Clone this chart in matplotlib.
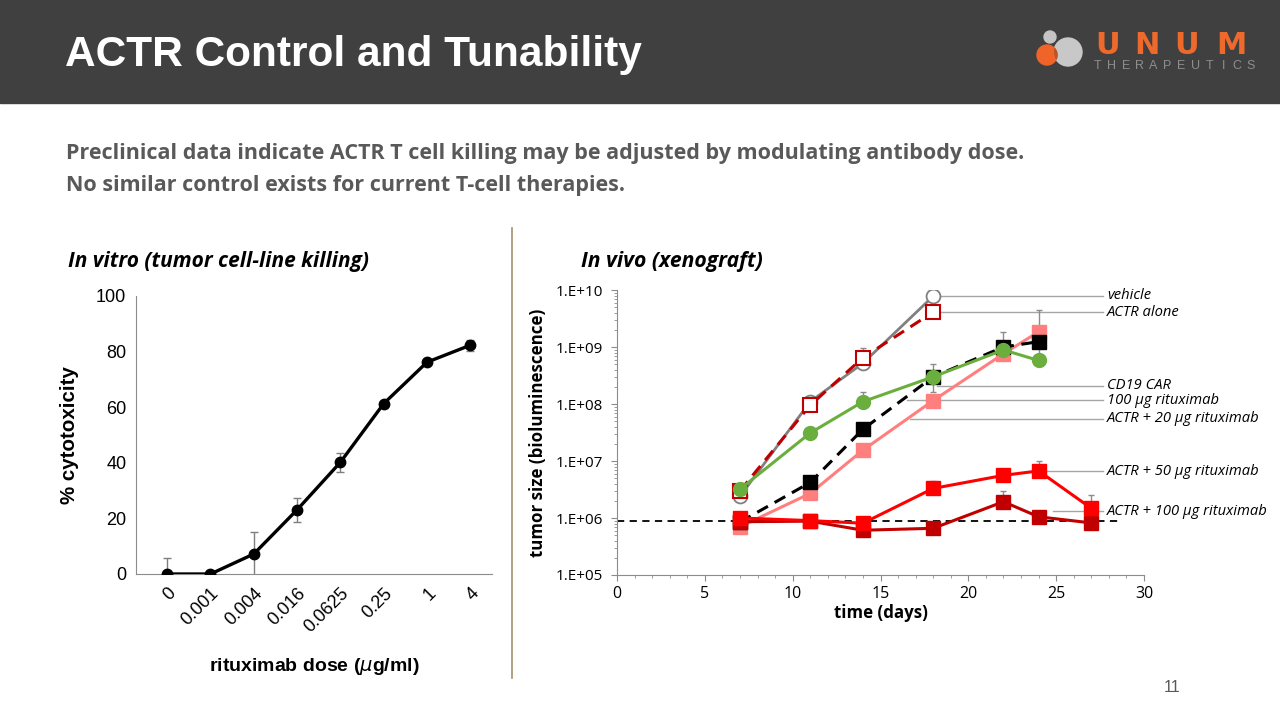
import numpy as np
import matplotlib
matplotlib.use("Agg")
import matplotlib.pyplot as plt
from matplotlib.patches import Rectangle, Circle
from matplotlib.ticker import LogLocator, NullFormatter, FixedLocator, MultipleLocator

# ---------------- data: in vitro ----------------
doses = ["0", "0.001", "0.004", "0.016", "0.0625", "0.25", "1", "4"]
cytotox = [0.0, 0.0, 7.2, 23.1, 40.2, 61.3, 76.2, 82.3]
cytotox_err = [5.8, 0.3, 7.8, 4.3, 3.5, 0.6, 0.6, 2.0]

# ---------------- data: in vivo ----------------
days_short = [7, 11, 14, 18]
days_mid = [7, 11, 14, 18, 22, 24]
days_all = [7, 11, 14, 18, 22, 24, 27]
vehicle = [2.4e6, 1.1e8, 5.2e8, 7.8e9]
actr_alone = [3.0e6, 9.5e7, 6.5e8, 4.1e9]
cd19_car = [8.5e5, 4.2e6, 3.6e7, 3.0e8, 1.0e9, 1.24e9]
ritux100 = [3.2e6, 3.1e7, 1.1e8, 3.0e8, 8.9e8, 5.8e8]
actr20 = [7.0e5, 2.7e6, 1.55e7, 1.15e8, 7.6e8, 1.85e9]
actr50 = [1.0e6, 9.0e5, 8.1e5, 3.3e6, 5.6e6, 6.7e6, 1.48e6]
actr100 = [8.6e5, 8.8e5, 6.1e5, 6.6e5, 1.93e6, 1.05e6, 8.2e5]
baseline = 8.8e5
nan = np.nan
vehicle_hi = [nan, nan, 9.5e8, nan]
cd19_hi = [nan, nan, nan, 5.0e8, 1.8e9, nan]
cd19_lo = [nan, nan, nan, 1.6e8, nan, 5.5e8]
ritux100_hi = [nan, nan, 1.64e8, nan, nan, nan]
actr20_hi = [nan, nan, nan, nan, nan, 4.4e9]
actr50_hi = [nan, nan, nan, 4.4e6, nan, 1.0e7, 2.5e6]
actr100_hi = [nan, nan, nan, nan, 3.0e6, 1.35e6, nan]

labels = ["vehicle", "ACTR alone", "CD19 CAR", "100 µg rituximab",
          "ACTR + 20 µg rituximab", "ACTR + 50 µg rituximab", "ACTR + 100 µg rituximab"]

W, H = 1280, 720
fig = plt.figure(figsize=(12.8, 7.2), dpi=100)

# overlay in pixel coordinates
ov = fig.add_axes([0, 0, 1, 1])
ov.set_xlim(0, W)
ov.set_ylim(H, 0)
ov.axis("off")
ov.add_patch(Rectangle((0, 0), W, 103, color="#404040", zorder=0))
ov.text(65, 55, "ACTR Control and Tunability", color="white", fontsize=30.5,
        fontweight="bold", family="Liberation Sans", va="center", ha="left")
# logo
ov.add_patch(Circle((1068, 52), 14, color="#C8C8C8", zorder=2))
ov.add_patch(Circle((1047, 55), 10, color="#F0642A", zorder=3))
ov.add_patch(Circle((1050, 37), 6, color="#C4C4C4", zorder=3))
clip = Circle((1068, 52), 14, transform=ov.transData)
inter = Circle((1047, 55), 10, color="#B8542E", zorder=4)
ov.add_patch(inter)
inter.set_clip_path(clip)
for ch, x in zip("UNUM", [1108, 1147, 1187, 1231]):
    ov.text(x, 45, ch, color="#EE6A2C", fontsize=22, family="DejaVu Sans",
            fontweight="bold", ha="center", va="center")
for i, ch in enumerate("THERAPEUTICS"):
    ov.text(1098 + i * 13.9, 66, ch, color="#8E8E8E", fontsize=9,
            family="Liberation Sans", ha="center", va="center")

ov.text(66, 153, "Preclinical data indicate ACTR T cell killing may be adjusted by modulating antibody dose.",
        color="#595959", fontsize=15.45, fontweight="bold", family="Open Sans", va="center")
ov.text(66, 185, "No similar control exists for current T-cell therapies.",
        color="#595959", fontsize=15.45, fontweight="bold", family="Open Sans", va="center")
ov.text(68, 262, "In vitro (tumor cell-line killing)", color="black", fontsize=15,
        fontweight="bold", style="italic", family="Open Sans", va="center")
ov.text(581, 262, "In vivo (xenograft)", color="black", fontsize=15.2,
        fontweight="bold", style="italic", family="Open Sans", va="center")
ov.plot([512, 512], [228, 678], color="#A39170", lw=1.2)
ov.text(1172, 688, "11", color="#595959", fontsize=11.5, family="Liberation Sans",
        ha="center", va="center")

# ---------------- left chart ----------------
axL = fig.add_axes([136 / W, 1 - 574 / H, (492 - 136) / W, (574 - 296) / H])
xi = np.arange(len(doses))
axL.errorbar(xi, cytotox, yerr=cytotox_err, fmt="none", ecolor="#7F7F7F",
             elinewidth=1, capsize=3, capthick=1, zorder=2)
axL.plot(xi, cytotox, color="black", lw=2.4, marker="o", ms=7.5, zorder=3)
axL.set_xlim(-0.72, 7.5)
axL.set_ylim(0, 100)
axL.set_yticks([0, 20, 40, 60, 80, 100])
axL.set_xticks(xi)
axL.set_xticklabels(doses, rotation=45, ha="right", rotation_mode="anchor")
for s in ["top", "right"]:
    axL.spines[s].set_visible(False)
for s in ["left", "bottom"]:
    axL.spines[s].set_color("#8C8C8C")
axL.tick_params(axis="y", length=0, labelsize=13, pad=7)
axL.tick_params(axis="x", length=0, labelsize=13, pad=8)
for t in axL.get_xticklabels() + axL.get_yticklabels():
    t.set_family("Liberation Sans")
axL.set_ylabel("% cytotoxicity", fontsize=14.8, fontweight="bold", family="Liberation Sans", labelpad=12)
axL.set_xlabel(r"rituximab dose ($\mu$g/ml)", fontsize=14, fontweight="bold",
               family="Liberation Sans", labelpad=14)
axL.patch.set_alpha(0)

# ---------------- right chart ----------------
axR = fig.add_axes([617 / W, 1 - 575 / H, (1144 - 617) / W, (575 - 290) / H])
axR.set_yscale("log")
axR.set_ylim(1e5, 1e10)
axR.set_xlim(0, 30)
axR.axhline(baseline, xmin=0, xmax=28.5 / 30, color="black", lw=1.3, ls=(0, (4, 3)), zorder=1)

ecol = "#8C8C8C"


def errs(x, y, hi, lo=None):
    y = np.asarray(y, float)
    hi = np.asarray(hi, float)
    up = np.where(np.isnan(hi), 0, hi - y)
    if lo is None:
        dn = np.zeros_like(y)
    else:
        lo = np.asarray(lo, float)
        dn = np.where(np.isnan(lo), 0, y - lo)
    axR.errorbar(x, y, yerr=[dn, up], fmt="none", ecolor=ecol, elinewidth=1,
                 capsize=2, capthick=1, zorder=2)


errs(days_short, vehicle, vehicle_hi)
errs(days_mid, cd19_car, cd19_hi, cd19_lo)
errs(days_mid, ritux100, ritux100_hi)
errs(days_mid, actr20, actr20_hi)
errs(days_all, actr50, actr50_hi)
errs(days_all, actr100, actr100_hi)

axR.plot(days_short, vehicle, color="#808080", lw=2, marker="o", ms=10,
         mfc="white", mec="#808080", mew=1.3, zorder=3)
axR.plot(days_short, actr_alone, color="#C00000", lw=2.2, ls=(0, (4, 2.5)), marker="s", ms=9.5,
         mfc="white", mec="#C00000", mew=1.5, zorder=4)
axR.plot(days_mid, actr20, color="#FF7F7F", lw=2.2, marker="s", ms=9.5,
         mfc="#FF7F7F", mec="#FF7F7F", zorder=4.2)
axR.plot(days_mid, cd19_car, color="black", lw=2.2, ls=(0, (4, 2.5)), marker="s", ms=9.5,
         mfc="black", mec="black", zorder=4.4)
axR.plot(days_all, actr100, color="#C00000", lw=2.2, marker="s", ms=9.5,
         mfc="#C00000", mec="#C00000", zorder=5)
axR.plot(days_all, actr50, color="#FF0000", lw=2.2, marker="s", ms=9.5,
         mfc="#FF0000", mec="#FF0000", zorder=5)
axR.plot(days_mid, ritux100, color="#6AAF3D", lw=2.2, marker="o", ms=10,
         mfc="#6AAF3D", mec="#6AAF3D", zorder=6)

# annotation leaders (start day, label level)
lead_start = [18.4, 18.4, 18.2, 16.5, 16.7, 24.4, 24.8]
lead_y = [10 ** 9.895, 10 ** 9.614, 10 ** 8.316, 10 ** 8.07, 10 ** 7.737, 10 ** 6.82, 10 ** 6.12]
for x0, yv, lab in zip(lead_start, lead_y, labels):
    axR.plot([x0, 27.66], [yv, yv], color="#A6A6A6", lw=1, zorder=1, clip_on=False)
    axR.text(27.9, yv, lab, fontsize=10.6, style="italic", family="Open Sans",
             va="center", ha="left", clip_on=False)

axR.yaxis.set_major_locator(FixedLocator([1e5, 1e6, 1e7, 1e8, 1e9, 1e10]))
axR.yaxis.set_minor_locator(LogLocator(base=10, subs=np.arange(2, 10), numticks=20))
axR.yaxis.set_minor_formatter(NullFormatter())
axR.set_yticklabels(["1.E+05", "1.E+06", "1.E+07", "1.E+08", "1.E+09", "1.E+10"])
axR.xaxis.set_major_locator(MultipleLocator(5))
axR.xaxis.set_minor_locator(MultipleLocator(1))
for s in ["top", "right"]:
    axR.spines[s].set_visible(False)
for s in ["left", "bottom"]:
    axR.spines[s].set_color("#8C8C8C")
axR.tick_params(which="major", length=4, color="#8C8C8C")
axR.tick_params(which="minor", length=2.5, color="#8C8C8C")
axR.tick_params(axis="y", which="both", direction="out", labelsize=11, pad=6)
axR.tick_params(axis="x", which="both", direction="out", labelsize=11.5, pad=4)
for t in axR.get_xticklabels() + axR.get_yticklabels():
    t.set_family("Open Sans")
axR.set_ylabel("tumor size (bioluminescence)", fontsize=12.2, fontweight="bold",
               family="Open Sans", labelpad=6)
axR.set_xlabel("time (days)", fontsize=12.2, fontweight="bold", family="Open Sans", labelpad=1)
axR.patch.set_alpha(0)

fig.savefig("out.png", dpi=100)
